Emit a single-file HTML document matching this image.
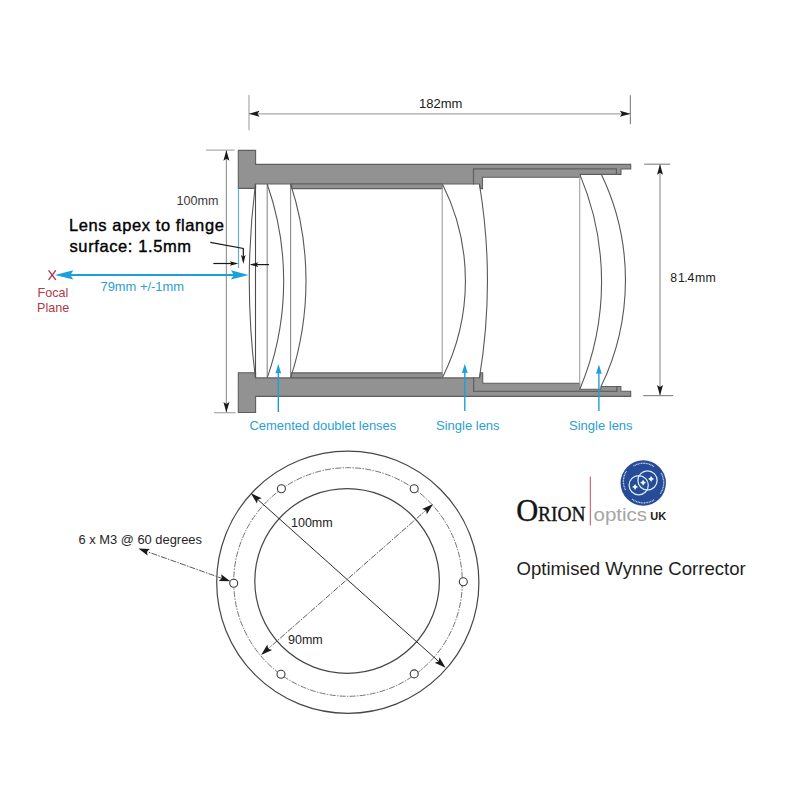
<!DOCTYPE html>
<html><head><meta charset="utf-8">
<style>
html,body{margin:0;padding:0;background:#fff;}
svg{display:block;}
text{font-family:"Liberation Sans",sans-serif;}
</style></head><body>
<svg width="790" height="790" viewBox="0 0 790 790">
<rect width="790" height="790" fill="#fff"/>

<!-- ===== top dimension 182mm ===== -->
<g stroke="#a8a8a8" stroke-width="1.2" fill="none">
<line x1="249" y1="95" x2="249" y2="130.3"/>
<line x1="630.4" y1="95.3" x2="630.4" y2="124.2" stroke="#8a8a8a"/>
<line x1="249" y1="113.8" x2="630.4" y2="113.8"/>
</g>
<path d="M0,0 L-10.5,-3 L-8.5,0 L-10.5,3 Z" fill="#1a1a1a" transform="translate(249,113.8) rotate(180)"/>
<path d="M0,0 L-10.5,-3 L-8.5,0 L-10.5,3 Z" fill="#1a1a1a" transform="translate(630.4,113.8)"/>
<text x="419" y="108" font-size="13" fill="#1a1a1a">182mm</text>

<!-- ===== left dimension 100mm ===== -->
<g stroke="#a8a8a8" stroke-width="1.2" fill="none">
<line x1="206" y1="150.1" x2="234.7" y2="150.1"/>
<line x1="214" y1="412.7" x2="235.5" y2="412.7"/>
<line x1="226.4" y1="150.1" x2="226.4" y2="412.5" stroke="#999"/>
</g>
<path d="M0,0 L-10.5,-3 L-8.5,0 L-10.5,3 Z" fill="#1a1a1a" transform="translate(226.4,150.3) rotate(-90)"/>
<path d="M0,0 L-10.5,-3 L-8.5,0 L-10.5,3 Z" fill="#1a1a1a" transform="translate(226.4,412.5) rotate(90)"/>
<text x="176.5" y="205" font-size="12.6" fill="#3a3a3a">100mm</text>

<!-- ===== right dimension 81.4mm ===== -->
<g stroke="#8a8a8a" stroke-width="1.2" fill="none">
<line x1="644.2" y1="164.2" x2="670.2" y2="164.2"/>
<line x1="643.2" y1="395.6" x2="673.2" y2="395.6"/>
<line x1="660" y1="164.2" x2="660" y2="395.6" stroke="#8e8e8e" stroke-width="1.1"/>
</g>
<path d="M0,0 L-10.5,-3 L-8.5,0 L-10.5,3 Z" fill="#1a1a1a" transform="translate(660,164.3) rotate(-90)"/>
<path d="M0,0 L-10.5,-3 L-8.5,0 L-10.5,3 Z" fill="#1a1a1a" transform="translate(660,395.6) rotate(90)"/>
<text x="670.2 677.9 684.2 687.5 695 705.6" y="282" font-size="12.3" fill="#1a1a1a">81.4mm</text>

<!-- ===== body ===== -->
<g fill="#929292" stroke="#5e5e5e" stroke-width="1.1" stroke-linejoin="miter">
<!-- top -->
<path d="M238.3,150.4 H255.6 V164.4 H630.7 V169 H621 V174.4 H616.4 V169 H473.5 V184 H255.6 V188.4 H238.3 Z"/>
<path d="M473.5,169 H616.4 V174.4 H580 V177.3 H482.5 V188.6 H480.4 L479.4,184 H473.5 Z"/>
<path d="M291.2,184 H442.2 V188.6 H292 Z"/>
<!-- bottom -->
<path d="M238.3,372.8 H255.6 V377.9 H473.7 V391.3 H616.8 V386.5 H620.9 V391.3 H630.7 V396.4 H255.6 V412.5 H238.3 Z"/>
<path d="M473.7,377.8 H479.6 L480.6,372.8 H482.7 V383.3 H579.6 V389.3 H600.6 L601.1,386.5 H616.8 V391.3 H473.7 Z"/>
<path d="M291.2,372.9 H442.2 V377.8 H290.8 Z"/>
</g>

<!-- ===== lenses ===== -->
<g fill="none" stroke-width="1.1">
<!-- rim lines -->
<line x1="255.5" y1="184" x2="255.5" y2="377.9" stroke="#4c4c4c"/>
<line x1="267.2" y1="184" x2="267.2" y2="377.9" stroke="#8a8a8a"/>
<line x1="290.6" y1="184" x2="290.6" y2="377.9" stroke="#8a8a8a"/>
<line x1="442.2" y1="184" x2="442.2" y2="377.7" stroke="#a0a0a0"/>
<line x1="579.7" y1="174.4" x2="579.7" y2="389.3" stroke="#a0a0a0"/>
<!-- surfaces -->
<path d="M255.4,184 A774,774 0 0 0 255.4,377.9" stroke="#585858"/>
<path d="M267.2,184 A293.4,293.4 0 0 1 267.2,377.9" stroke="#585858"/>
<path d="M290.6,184 A313,313 0 0 1 290.6,377.9" stroke="#585858"/>
<path d="M442.4,184 A215.2,215.2 0 0 1 442.4,377.7" stroke="#585858"/>
<path d="M479.4,184 A590,590 0 0 1 479.4,377.8" stroke="#585858"/>
<path d="M579.8,174.4 A276,276 0 0 1 579.8,389.3" stroke="#585858"/>
<path d="M601.3,174.3 A244,244 0 0 1 601.0,386.6" stroke="#585858"/>
</g>

<!-- ===== cyan flange line ===== -->
<line x1="238.5" y1="188.5" x2="238.5" y2="268" stroke="#6aaec2" stroke-width="1.2"/>

<!-- ===== black small arrows ===== -->
<g stroke="#1a1a1a" stroke-width="1.2" fill="none">
<line x1="213.3" y1="263.5" x2="232" y2="263.5"/>
<line x1="251" y1="264.6" x2="269" y2="264.6"/>
<polyline points="210.3,242.4 243.3,248.5 243.3,257"/>
</g>
<path d="M0,0 L-8.5,-2.3 L-7,0 L-8.5,2.3 Z" fill="#1a1a1a" transform="translate(238.4,263.5)"/>
<path d="M0,0 L-8.5,-2.3 L-7,0 L-8.5,2.3 Z" fill="#1a1a1a" transform="translate(249.7,264.6) rotate(180)"/>
<path d="M0,0 L-9,-2.3 L-7.2,0 L-9,2.3 Z" fill="#1a1a1a" transform="translate(243.3,264) rotate(90)"/>

<!-- ===== blue arrows ===== -->
<g stroke="#1d9fd9" fill="none">
<line x1="60" y1="274.9" x2="244" y2="274.9" stroke-width="2"/>
<line x1="278.3" y1="370" x2="278.3" y2="412" stroke-width="1.4"/>
<line x1="464.8" y1="370" x2="464.8" y2="411.1" stroke-width="1.4"/>
<line x1="598.9" y1="370" x2="598.9" y2="411" stroke-width="1.4"/>
</g>
<path d="M0,0 L-16,-4.6 L-13.5,0 L-16,4.6 Z" fill="#1d9fd9" transform="translate(54.9,274.9) rotate(180) scale(1.15,1)"/>
<path d="M0,0 L-16,-4.6 L-13.5,0 L-16,4.6 Z" fill="#1d9fd9" transform="translate(248.6,274.9) scale(1.1,1)"/>
<path d="M0,0 L-9.6,-2.9 L-8.8,0 L-9.6,2.9 Z" fill="#1d9fd9" transform="translate(278.3,364) rotate(-90)"/>
<path d="M0,0 L-9.6,-2.9 L-8.8,0 L-9.6,2.9 Z" fill="#1d9fd9" transform="translate(464.8,363.7) rotate(-90)"/>
<path d="M0,0 L-9.6,-2.9 L-8.8,0 L-9.6,2.9 Z" fill="#1d9fd9" transform="translate(598.9,364.4) rotate(-90)"/>

<!-- ===== left annotation texts ===== -->
<text x="69" y="231.3" font-size="16.5" fill="#000" stroke="#000" stroke-width="0.38" letter-spacing="0.6">Lens apex to flange</text>
<text x="69.5" y="252.3" font-size="16.5" fill="#000" stroke="#000" stroke-width="0.38" letter-spacing="0.6">surface: 1.5mm</text>
<text x="100.5" y="291" font-size="12.9" fill="#2aa0d4">79mm +/-1mm</text>
<g stroke="#a8323e" stroke-width="1.3">
<line x1="48.6" y1="270.3" x2="55.8" y2="279.8"/>
<line x1="55.8" y1="270.3" x2="48.6" y2="279.8"/>
</g>
<text x="37.5" y="296.7" font-size="12.6" fill="#b03a48">Focal</text>
<text x="37" y="311.9" font-size="12.6" fill="#b03a48">Plane</text>

<!-- ===== lens labels ===== -->
<text x="249.5" y="429.6" font-size="12.95" fill="#2aa0d4">Cemented doublet lenses</text>
<text x="436" y="429.6" font-size="13" fill="#2aa0d4">Single lens</text>
<text x="569" y="429.6" font-size="13" fill="#2aa0d4">Single lens</text>

<!-- ===== front view ===== -->
<g fill="none" stroke="#464646" stroke-width="1.2">
<circle cx="347.8" cy="582.2" r="131.1"/>
<circle cx="347.1" cy="581" r="92.3"/>
</g>
<circle cx="348" cy="582" r="114.3" fill="none" stroke="#747474" stroke-width="1" stroke-dasharray="6 1.3 1.5 1.3"/>
<g fill="#fff" stroke="#3c3c3c" stroke-width="1.1">
<circle cx="281.4" cy="488.7" r="4"/>
<circle cx="414.2" cy="488.8" r="4"/>
<circle cx="233.7" cy="583.2" r="4"/>
<circle cx="463.3" cy="581.7" r="4"/>
<circle cx="281" cy="674.2" r="4"/>
<circle cx="414.2" cy="673.9" r="4"/>
</g>
<!-- 100mm diag -->
<line x1="255" y1="497" x2="441.5" y2="664" stroke="#2a2a2a" stroke-width="1"/>
<path d="M0,0 L-11.5,-3.6 L-9.3,0 L-11.5,3.6 Z" fill="#1a1a1a" transform="translate(250.8,493.2) rotate(221.85)"/>
<path d="M0,0 L-11.5,-3.6 L-9.3,0 L-11.5,3.6 Z" fill="#1a1a1a" transform="translate(445.6,667.7) rotate(41.85)"/>
<!-- 90mm diag (dashed) -->
<line x1="265" y1="651.5" x2="429" y2="507.6" stroke="#5a5a5a" stroke-width="1" stroke-dasharray="6 1.3 1.5 1.3"/>
<path d="M0,0 L-11.5,-3.6 L-9.3,0 L-11.5,3.6 Z" fill="#1a1a1a" transform="translate(433.1,504) rotate(-41.26)"/>
<path d="M0,0 L-11.5,-3.6 L-9.3,0 L-11.5,3.6 Z" fill="#1a1a1a" transform="translate(261.1,654.9) rotate(138.74)"/>
<!-- M3 leader -->
<line x1="142" y1="549.8" x2="226" y2="579.8" stroke="#5a5a5a" stroke-width="1" stroke-dasharray="6 1.3 1.5 1.3"/>
<path d="M0,0 L-11,-3.5 L-9,0 L-11,3.5 Z" fill="#1a1a1a" transform="translate(138.4,548.5) rotate(199.6)"/>
<path d="M0,0 L-11,-3.5 L-9,0 L-11,3.5 Z" fill="#1a1a1a" transform="translate(230.3,581.3) rotate(19.6)"/>
<text x="78.5" y="544" font-size="12.9" fill="#262626">6 x M3 @ 60 degrees</text>
<text x="291" y="526.8" font-size="12.5" fill="#222">100mm</text>
<text x="288" y="643.9" font-size="12.5" fill="#222">90mm</text>

<!-- ===== logo ===== -->
<text x="516.3" y="520.9" style="font-family:'Liberation Serif',serif" font-size="30.5" fill="#141414" stroke="#141414" stroke-width="0.35">O</text>
<text x="538" y="520.6" style="font-family:'Liberation Serif',serif" font-size="21" fill="#141414" stroke="#141414" stroke-width="0.35" textLength="47.6" lengthAdjust="spacingAndGlyphs">RION</text>
<line x1="590.3" y1="476.5" x2="590.3" y2="525.5" stroke="#c0505a" stroke-width="1"/>
<text x="593.6" y="521.1" font-size="17.8" fill="#a5a5a5" textLength="53.4" lengthAdjust="spacingAndGlyphs">optics</text>
<text x="650.3" y="520.3" font-size="11" font-weight="bold" fill="#1a1a1a">UK</text>
<circle cx="643.25" cy="483" r="22.7" fill="#264c97"/>
<g fill="none" stroke="#dcecfb" stroke-width="1.25">
<circle cx="638.7" cy="485.2" r="9.6"/>
<circle cx="647.5" cy="480.4" r="9.6"/>
</g>
<g fill="#f2f6fc">
<path d="M635.1,483.9 L636.25,485.75 L638.1,486.9 L636.25,488.04999999999995 L635.1,489.9 L633.95,488.04999999999995 L632.1,486.9 L633.95,485.75 Z M643.1,479.7 L644.25,481.55 L646.1,482.7 L644.25,483.84999999999997 L643.1,485.7 L641.95,483.84999999999997 L640.1,482.7 L641.95,481.55 Z M651.1,475.9 L652.25,477.75 L654.1,478.9 L652.25,480.04999999999995 L651.1,481.9 L649.95,480.04999999999995 L648.1,478.9 L649.95,477.75 Z"/>
</g>
<g fill="none" stroke="#c8d4ec" stroke-width="1.3" stroke-dasharray="1 0.6">
<path d="M633.5,466 A19,19 0 0 1 654,466.5"/>
<path d="M661,473 A19,19 0 0 1 660,494"/>
<path d="M632,499 A19,19 0 0 0 654.5,499.5"/>
<path d="M625.5,490 A19,19 0 0 1 626.5,471"/>
</g>

<text x="516.5" y="574.6" font-size="18.6" fill="#1e1e1e">Optimised Wynne Corrector</text>
</svg>
</body></html>
